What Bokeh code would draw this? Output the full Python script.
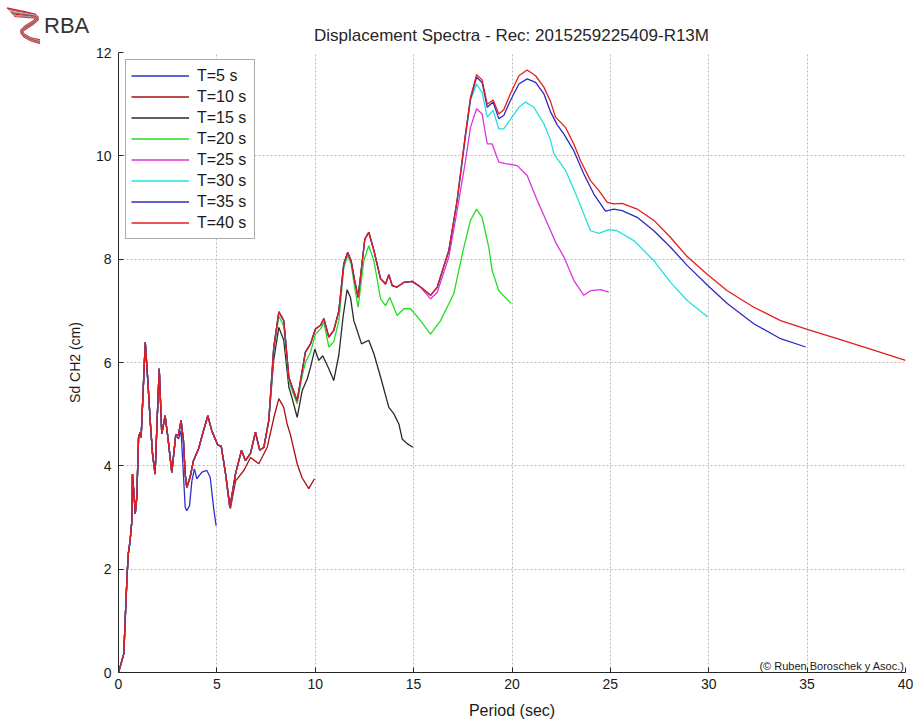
from bokeh.plotting import figure
from bokeh.layouts import column
from bokeh.models import Range1d, FixedTicker, Legend, LegendItem, Label, Div
from bokeh.embed import file_html
from bokeh.resources import INLINE

FONT = "Liberation Sans"

# ---------------- texts & axis ticks ----------------
title_text = "Displacement Spectra - Rec: 2015259225409-R13M"
logo_text = "RBA"
credit_text = "(\u00a9 Ruben Boroschek y Asoc.)"
x_ticks = [0, 5, 10, 15, 20, 25, 30, 35, 40]
y_ticks = [0, 2, 4, 6, 8, 10, 12]

# ---------------- data segments (Period [s], Sd [cm]) ----------------
# common to all windows, 0 - 2.9 s
common_T = [0, 0.27, 0.36, 0.44, 0.50, 0.59, 0.68, 0.71, 0.81, 0.85, 0.93, 1.02, 1.10, 1.15,
            1.36, 1.49, 1.61, 1.73, 1.86, 1.95, 2.07, 2.20, 2.37, 2.51, 2.71, 2.91]
common_sd = [0, 0.36, 1.20, 1.91, 2.30, 2.55, 2.94, 3.84, 3.33, 3.07, 3.39, 4.55, 4.65, 4.55,
             6.39, 5.65, 4.88, 4.23, 3.84, 4.75, 5.88, 4.62, 4.97, 4.55, 3.87, 4.60]

# T=5 s tail
t5_T = [3.05, 3.18, 3.39, 3.47, 3.61, 3.73, 3.86, 3.98, 4.24, 4.49, 4.66, 4.83, 4.96]
t5_sd = [4.52, 4.68, 3.20, 3.13, 3.23, 3.71, 3.94, 3.75, 3.88, 3.91, 3.78, 3.20, 2.84]

# common for T >= 10 s, 3 - 5.5 s
mid_T = [3.05, 3.18, 3.30, 3.39, 3.47, 3.64, 3.81, 4.07, 4.32, 4.54, 4.74, 5.05, 5.22, 5.44]
mid_sd = [4.60, 4.88, 4.49, 3.84, 3.58, 3.78, 4.10, 4.33, 4.68, 4.97, 4.68, 4.40, 4.38, 3.85]

# T=10 s tail
t10_T = [5.69, 5.95, 6.37, 6.71, 7.13, 7.56, 7.90, 8.15, 8.40, 8.57, 8.74, 9.08, 9.33, 9.67, 9.96]
t10_sd = [3.17, 3.71, 3.91, 4.16, 4.04, 4.36, 4.94, 5.30, 5.13, 4.81, 4.60, 4.04, 3.77, 3.56, 3.75]

# common for T >= 15 s, 5.6 - 7.7 s
lc_T = [5.66, 5.95, 6.25, 6.45, 6.71, 6.96, 7.18, 7.39, 7.64]
lc_sd = [3.19, 3.85, 4.30, 4.10, 4.24, 4.65, 4.30, 4.36, 4.88]

# T=15 s tail
t15_T = [7.89, 8.15, 8.40, 8.66, 8.83, 9.08, 9.34, 9.59, 9.76, 9.98, 10.18, 10.38, 10.69, 10.94,
         11.20, 11.42, 11.62, 11.79, 11.96, 12.13, 12.35, 12.72, 12.98, 13.32, 13.74, 13.99,
         14.25, 14.42, 14.67, 14.96]
t15_sd = [6.05, 6.68, 6.43, 5.52, 5.30, 4.94, 5.46, 5.68, 5.91, 6.26, 6.04, 6.13, 5.88, 5.65,
          6.15, 6.90, 7.41, 7.26, 6.81, 6.62, 6.36, 6.43, 6.17, 5.72, 5.13, 5.01,
          4.81, 4.52, 4.43, 4.36]

# T=20 s tail
t20_T = [7.89, 8.15, 8.40, 8.66, 8.83, 9.08, 9.34, 9.50, 9.76, 10.01, 10.27, 10.44, 10.69, 10.94,
         11.20, 11.45, 11.65, 11.82, 12.03, 12.18, 12.47, 12.72, 12.98, 13.32, 13.57, 13.79,
         14.16, 14.50, 14.84, 15.27, 15.86, 16.37, 17.04, 17.55, 17.89, 18.20, 18.48, 18.82,
         18.99, 19.33, 19.96]
t20_sd = [6.20, 6.90, 6.70, 5.65, 5.45, 5.20, 5.75, 6.00, 6.20, 6.55, 6.65, 6.78, 6.30, 6.40,
          6.81, 7.84, 8.07, 7.91, 7.39, 7.07, 7.97, 8.26, 7.97, 7.23, 7.10, 7.26,
          6.91, 7.04, 7.04, 6.85, 6.55, 6.81, 7.33, 8.23, 8.75, 8.97, 8.81, 8.23,
          7.78, 7.39, 7.14]

# common for T >= 25 s, 7.9 - 15.4 s
up_T = [7.89, 8.15, 8.40, 8.66, 8.83, 9.08, 9.34, 9.50, 9.76, 10.01, 10.27, 10.44, 10.69, 10.94,
        11.20, 11.45, 11.65, 11.82, 12.00, 12.18, 12.52, 12.72, 12.98, 13.32, 13.57, 13.74,
        13.91, 14.16, 14.50, 14.93, 15.35]
up_sd = [6.29, 6.98, 6.81, 5.71, 5.52, 5.26, 5.85, 6.20, 6.36, 6.65, 6.72, 6.85, 6.49, 6.62,
         7.00, 7.91, 8.13, 7.97, 7.59, 7.26, 8.39, 8.52, 8.17, 7.62, 7.52, 7.70,
         7.49, 7.46, 7.55, 7.57, 7.46]

# T=25 s tail
t25_T = [15.86, 16.20, 16.79, 17.21, 17.64, 17.89, 18.20, 18.48, 18.74, 18.99, 19.33, 19.67,
         20.26, 20.77, 21.28, 21.79, 22.21, 22.64, 23.14, 23.65, 23.99, 24.50, 24.92]
t25_sd = [7.23, 7.36, 8.04, 8.94, 9.91, 10.55, 10.91, 10.81, 10.23, 10.23, 9.88, 9.85,
          9.81, 9.62, 9.14, 8.70, 8.33, 8.04, 7.59, 7.30, 7.39, 7.41, 7.36]

# T=30 s tail
t30_T = [15.86, 16.20, 16.79, 17.21, 17.55, 17.89, 18.20, 18.48, 18.74, 19.04, 19.33, 19.58,
         20.00, 20.35, 20.69, 21.11, 21.62, 21.96, 22.13, 22.72, 23.31, 23.99, 24.41, 24.92,
         25.34, 26.19, 27.21, 28.06, 28.90, 29.95]
t30_sd = [7.30, 7.45, 8.15, 9.10, 10.10, 11.07, 11.39, 11.23, 10.75, 10.88, 10.52, 10.52,
          10.75, 10.94, 11.04, 10.94, 10.62, 10.30, 10.04, 9.72, 9.20, 8.55, 8.50, 8.57,
          8.55, 8.36, 7.97, 7.55, 7.20, 6.88]

# T=35 s tail
t35_T = [15.86, 16.20, 16.79, 17.21, 17.64, 17.89, 18.20, 18.48, 18.74, 19.04, 19.33, 19.58,
         19.92, 20.35, 20.77, 21.20, 21.62, 21.96, 22.30, 22.64, 23.14, 23.65, 24.16, 24.75,
         25.17, 25.60, 26.36, 27.21, 28.06, 28.90, 29.95, 30.94, 32.29, 33.65, 34.93]
t35_sd = [7.30, 7.46, 8.17, 9.14, 10.43, 11.10, 11.52, 11.42, 10.94, 11.04, 10.72, 10.78,
          11.07, 11.39, 11.49, 11.42, 11.20, 10.85, 10.60, 10.42, 10.10, 9.65, 9.26, 8.93,
          8.97, 8.94, 8.81, 8.55, 8.23, 7.88, 7.49, 7.14, 6.75, 6.46, 6.30]

# T=40 s tail
t40_T = [15.86, 16.20, 16.79, 17.21, 17.64, 17.89, 18.20, 18.48, 18.74, 19.04, 19.33, 19.58,
         19.92, 20.35, 20.77, 21.20, 21.62, 21.96, 22.21, 22.72, 23.14, 23.48, 23.99, 24.41,
         24.84, 25.17, 25.60, 26.36, 27.21, 28.06, 28.90, 29.95, 30.94, 32.29, 33.65, 34.93,
         36.53, 38.22, 40.00]
t40_sd = [7.30, 7.46, 8.17, 9.14, 10.43, 11.13, 11.57, 11.47, 11.00, 11.08, 10.81, 10.89,
          11.20, 11.55, 11.66, 11.55, 11.33, 11.05, 10.75, 10.55, 10.23, 9.91, 9.52, 9.33,
          9.10, 9.07, 9.08, 8.97, 8.75, 8.42, 8.05, 7.70, 7.39, 7.07, 6.81, 6.65,
          6.46, 6.26, 6.04]

labels = ["T=5 s", "T=10 s", "T=15 s", "T=20 s", "T=25 s", "T=30 s", "T=35 s", "T=40 s"]
colors = ["#2f2fcc", "#a80e0e", "#2a2a2a", "#22dd22", "#dd33dd", "#22e0e0", "#2b2bbf", "#e41c1c"]

series = [
    (common_T + t5_T, common_sd + t5_sd),
    (common_T + mid_T + t10_T, common_sd + mid_sd + t10_sd),
    (common_T + mid_T + lc_T + t15_T, common_sd + mid_sd + lc_sd + t15_sd),
    (common_T + mid_T + lc_T + t20_T, common_sd + mid_sd + lc_sd + t20_sd),
    (common_T + mid_T + lc_T + up_T + t25_T, common_sd + mid_sd + lc_sd + up_sd + t25_sd),
    (common_T + mid_T + lc_T + up_T + t30_T, common_sd + mid_sd + lc_sd + up_sd + t30_sd),
    (common_T + mid_T + lc_T + up_T + t35_T, common_sd + mid_sd + lc_sd + up_sd + t35_sd),
    (common_T + mid_T + lc_T + up_T + t40_T, common_sd + mid_sd + lc_sd + up_sd + t40_sd),
]

W = 913
HEAD_H = 44

# ---------------- header: logo + title (inline SVG inside a Div) ----------------
stripe_colors = ["#c9252c", "#d9474e", "#b4b4b4", "#6e6e6e", "#c9252c", "#a0a0a0", "#d9474e"]
stripes = []
for i, col in enumerate(stripe_colors):
    px = [7 + i * 1.2, 16, 26, 35, 38, 33, 25, 21, 24, 31, 40]
    py = [8 + i * 1.4, 10 + i * 1.1, 12 + i * 0.9, 14 + i * 0.7, 17 + i * 0.5,
          21 + i * 0.6, 26 + i * 0.6, 30 + i * 0.5, 34 + i * 0.5, 38 + i * 0.5, 40 + i * 0.6]
    pts = " ".join(f"{a:.1f},{b:.1f}" for a, b in zip(px, py))
    stripes.append(f'<polyline points="{pts}" fill="none" stroke="{col}" stroke-width="1.3"/>')

header_svg = (
    f'<svg xmlns="http://www.w3.org/2000/svg" width="{W}" height="{HEAD_H}" '
    f'style="display:block;overflow:visible">'
    + "".join(stripes)
    + f'<text x="44" y="33" font-family="{FONT}" font-size="22" fill="#333333">{logo_text}</text>'
    + f'<text x="511.5" y="40.5" text-anchor="middle" font-family="{FONT}" font-size="17" '
      f'fill="#262626">{title_text}</text>'
    + "</svg>"
)
head = Div(text=header_svg, width=W, height=HEAD_H, margin=(0, 0, 0, 0),
           styles={"padding": "0", "margin": "0", "overflow": "visible"})

# ---------------- main chart ----------------
p = figure(width=W, height=679, output_backend="svg", toolbar_location=None,
           x_range=Range1d(0, 40), y_range=Range1d(0, 12),
           min_border_left=118, min_border_right=8, min_border_top=8, min_border_bottom=51)
p.outline_line_color = None
p.background_fill_color = "white"
p.border_fill_color = "white"
p.border_fill_alpha = 0.0

for ax, ticks in ((p.xaxis, x_ticks), (p.yaxis, y_ticks)):
    ax.ticker = FixedTicker(ticks=ticks)
    ax.axis_line_color = "#262626"
    ax.major_tick_line_color = "#262626"
    ax.major_tick_in = 5
    ax.major_tick_out = 0
    ax.minor_tick_line_color = None
    ax.major_label_text_font = FONT
    ax.major_label_text_font_size = "14px"
    ax.major_label_text_color = "#1a1a1a"
    ax.axis_label_text_font = FONT
    ax.axis_label_text_font_style = "normal"
    ax.axis_label_text_color = "#1a1a1a"

p.xaxis.axis_label = "Period (sec)"
p.xaxis.axis_label_text_font_size = "16px"
p.xaxis.major_label_standoff = 6
p.xaxis.axis_label_standoff = 10
p.yaxis.axis_label = "Sd CH2 (cm)"
p.yaxis.axis_label_text_font_size = "14px"
p.yaxis.major_label_standoff = 7
p.yaxis.axis_label_standoff = 10

for g in (p.xgrid, p.ygrid):
    g.grid_line_color = "#bdbdbd"
    g.grid_line_dash = "2 2"
    g.grid_line_width = 1

items = []
for (xs, ys), lab, col in zip(series, labels, colors):
    r = p.line(xs, ys, line_color=col, line_width=1.3)
    items.append(LegendItem(label=lab, renderers=[r]))

legend = Legend(items=items, location="top_left", margin=7, padding=5,
                spacing=0, glyph_width=58, glyph_height=21, label_height=21,
                label_width=52, label_standoff=8,
                label_text_font=FONT, label_text_font_size="16px",
                label_text_color="#1a1a1a",
                border_line_color="#555555", border_line_width=1,
                background_fill_color="white", background_fill_alpha=1.0)
p.add_layout(legend)

p.add_layout(Label(x=40, y=0, text=credit_text, text_align="right",
                   text_baseline="bottom", x_offset=-1, y_offset=1,
                   text_font=FONT, text_font_size="11px", text_color="#1a1a1a"))

layout = column(head, p, spacing=0)
open("out.html", "w").write(file_html(layout, INLINE))
